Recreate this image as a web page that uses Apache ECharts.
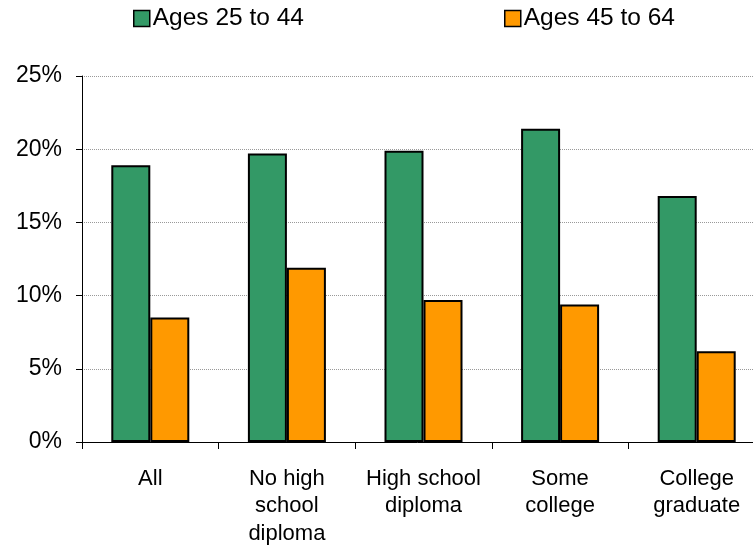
<!DOCTYPE html>
<html>
<head>
<meta charset="utf-8">
<script src="https://cdn.jsdelivr.net/npm/echarts@6/dist/echarts.min.js"></script>
<style>
html,body{margin:0;padding:0;background:#fff;}
#c{width:753px;height:547px;}
</style>
</head>
<body>
<div id="c"></div>
<script>
var categories = ['All', 'No high\nschool\ndiploma', 'High school\ndiploma', 'Some\ncollege', 'College\ngraduate'];
var seriesNames = ['Ages 25 to 44', 'Ages 45 to 64'];
var ages25to44 = [18.9, 19.7, 19.9, 21.4, 16.8];
var ages45to64 = [8.5, 11.9, 9.7, 9.4, 6.2];
var yTicks = [0, 5, 10, 15, 20, 25];

var font = 'Liberation Sans, Arial, sans-serif';
var chart = echarts.init(document.getElementById('c'), null, {renderer: 'canvas'});
function legendFor(name, left) {
  return {
    data: [{name: name, icon: 'rect'}], left: left, top: 1, itemWidth: 16, itemHeight: 16, itemGap: 0,
    textStyle: {fontSize: 24.5, color: '#000', fontFamily: font, padding: [0, 0, 0, -2]},
    itemStyle: {borderColor: '#000', borderWidth: 1.5}
  };
}
chart.setOption({
  animation: false,
  backgroundColor: '#ffffff',
  textStyle: {fontFamily: font, color: '#000'},
  legend: [legendFor(seriesNames[0], 128), legendFor(seriesNames[1], 499)],
  grid: {left: 82, top: 76, width: 683, height: 366, containLabel: false, outerBoundsMode: 'none'},
  xAxis: {
    type: 'category',
    data: categories,
    axisLine: {show: true, lineStyle: {color: '#000', width: 1}},
    axisTick: {show: true, length: 7, interval: 0, lineStyle: {color: '#000'}},
    axisLabel: {interval: 0, fontSize: 22, color: '#000', fontFamily: font, margin: 23, lineHeight: 27.5}
  },
  yAxis: {
    type: 'value',
    min: yTicks[0], max: yTicks[yTicks.length - 1], interval: 5,
    axisLine: {show: true, lineStyle: {color: '#000', width: 1}},
    axisTick: {show: true, length: 6, lineStyle: {color: '#000'}},
    axisLabel: {formatter: '{value}%', fontSize: 23, color: '#000', fontFamily: font, margin: 20},
    splitLine: {show: true, lineStyle: {color: '#999', type: 'dotted', width: 1}}
  },
  series: [
    {
      name: seriesNames[0], type: 'bar', data: ages25to44,
      barWidth: 39, barGap: '0%',
      itemStyle: {color: '#339966', borderColor: '#000', borderWidth: 2}
    },
    {
      name: seriesNames[1], type: 'bar', data: ages45to64,
      barWidth: 39, barGap: '0%',
      itemStyle: {color: '#FF9900', borderColor: '#000', borderWidth: 2}
    }
  ]
});
</script>
</body>
</html>
